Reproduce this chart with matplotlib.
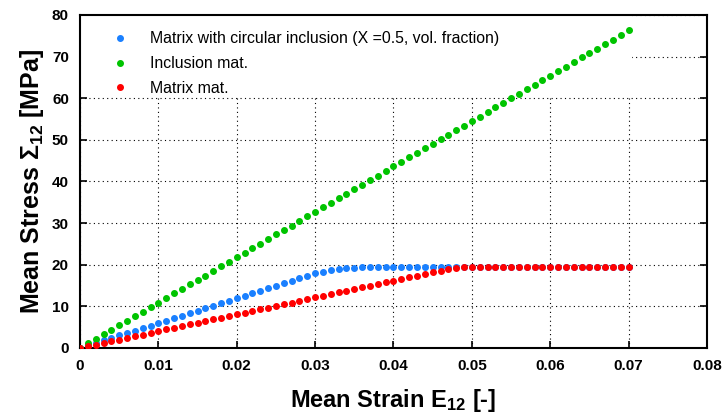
import matplotlib
matplotlib.use("Agg")
import matplotlib.pyplot as plt
from matplotlib.patches import Rectangle

plt.rcParams['font.family'] = ['Liberation Sans', 'DejaVu Sans']
plt.rcParams['mathtext.fontset'] = 'custom'
plt.rcParams['mathtext.rm'] = 'Liberation Sans:bold'
plt.rcParams['mathtext.bf'] = 'Liberation Sans:bold'
plt.rcParams['mathtext.default'] = 'bf'

# strain in steps of 0.001
strain = [0.000, 0.001, 0.002, 0.003, 0.004, 0.005, 0.006, 0.007, 0.008, 0.009,
          0.010, 0.011, 0.012, 0.013, 0.014, 0.015, 0.016, 0.017, 0.018, 0.019,
          0.020, 0.021, 0.022, 0.023, 0.024, 0.025, 0.026, 0.027, 0.028, 0.029,
          0.030, 0.031, 0.032, 0.033, 0.034, 0.035, 0.036, 0.037, 0.038, 0.039,
          0.040, 0.041, 0.042, 0.043, 0.044, 0.045, 0.046, 0.047, 0.048, 0.049,
          0.050, 0.051, 0.052, 0.053, 0.054, 0.055, 0.056, 0.057, 0.058, 0.059,
          0.060, 0.061, 0.062, 0.063, 0.064, 0.065, 0.066, 0.067, 0.068, 0.069,
          0.070]

composite = [0, 0.6, 1.2, 1.8, 2.4, 3.0, 3.6, 4.2, 4.8, 5.4,
             6.0, 6.6, 7.2, 7.8, 8.4, 9.0, 9.6, 10.2, 10.8, 11.4,
             12.0, 12.6, 13.2, 13.8, 14.4, 15.0, 15.6, 16.2, 16.8, 17.4,
             18.0, 18.35, 18.7, 19.0, 19.2, 19.3, 19.4, 19.45, 19.5, 19.5,
             19.5, 19.5, 19.5, 19.5, 19.5, 19.5, 19.5, 19.5, 19.5, 19.5,
             19.5, 19.5, 19.5, 19.5, 19.5, 19.5, 19.5, 19.5, 19.5, 19.5,
             19.5, 19.5, 19.5, 19.5, 19.5, 19.5, 19.5, 19.5, 19.5, 19.5,
             19.5]

inclusion = [0, 1.1, 2.2, 3.3, 4.4, 5.5, 6.5, 7.6, 8.7, 9.8,
             10.9, 12.0, 13.1, 14.2, 15.3, 16.4, 17.4, 18.5, 19.6, 20.7,
             21.8, 22.9, 24.0, 25.1, 26.2, 27.3, 28.3, 29.4, 30.5, 31.6,
             32.7, 33.8, 34.9, 36.0, 37.1, 38.2, 39.2, 40.3, 41.4, 42.5,
             43.6, 44.7, 45.8, 46.9, 48.0, 49.1, 50.1, 51.2, 52.3, 53.4,
             54.5, 55.6, 56.7, 57.8, 58.9, 60.0, 61.0, 62.1, 63.2, 64.3,
             65.4, 66.5, 67.6, 68.7, 69.8, 70.9, 71.9, 73.0, 74.1, 75.2,
             76.3]

matrix = [0, 0.4, 0.8, 1.2, 1.6, 2.0, 2.4, 2.8, 3.2, 3.6,
          4.1, 4.5, 4.9, 5.3, 5.7, 6.1, 6.5, 6.9, 7.3, 7.7,
          8.1, 8.5, 8.9, 9.3, 9.7, 10.1, 10.5, 10.9, 11.3, 11.7,
          12.2, 12.6, 13.0, 13.4, 13.8, 14.2, 14.6, 15.0, 15.4, 15.8,
          16.2, 16.6, 17.0, 17.4, 17.8, 18.2, 18.6, 19.0, 19.3, 19.5,
          19.5, 19.5, 19.5, 19.5, 19.5, 19.5, 19.5, 19.5, 19.5, 19.5,
          19.5, 19.5, 19.5, 19.5, 19.5, 19.5, 19.5, 19.5, 19.5, 19.5,
          19.5]

labels = ["Matrix with circular inclusion (X =0.5, vol. fraction)",
          "Inclusion mat.",
          "Matrix mat."]
colors = ["#1a80ff", "#00c400", "#ff0000"]

fig = plt.figure(figsize=(7.24, 4.16), dpi=100)
ax = fig.add_axes([0.1105, 0.1635, 0.866, 0.8005])

for ys, lab, c in zip([composite, inclusion, matrix], labels, colors):
    ax.plot(strain, ys, linestyle="none", marker="o", markersize=4,
            color=c, label=lab, zorder=3)

ax.set_xlim(0, 0.08)
ax.set_ylim(0, 80)
ax.set_xticks([0, 0.01, 0.02, 0.03, 0.04, 0.05, 0.06, 0.07, 0.08])
ax.set_xticklabels(["0", "0.01", "0.02", "0.03", "0.04", "0.05", "0.06", "0.07", "0.08"])
ax.set_yticks(range(0, 81, 10))
ax.set_axisbelow(True)
ax.grid(True, color="black", linestyle=(0, (1, 3)), linewidth=0.8)
ax.tick_params(direction="in", top=True, right=True, length=5, width=1.2,
               labelsize=11, pad=8)
for lb in ax.get_xticklabels() + ax.get_yticklabels():
    lb.set_fontweight("bold")
for sp in ax.spines.values():
    sp.set_linewidth(1.5)

ax.set_xlabel("Mean Strain E$_{12}$ [-]", fontsize=17, fontweight="bold", labelpad=10)
ax.set_ylabel("Mean Stress $\\Sigma_{12}$ [MPa]", fontsize=18, fontweight="bold", labelpad=4)

# white legend box hides the grid in the upper left
ax.add_patch(Rectangle((0, 0.757), 0.88, 0.243, transform=ax.transAxes,
                       facecolor="white", edgecolor="none", zorder=1.5))

leg = ax.legend(loc="upper left", bbox_to_anchor=(0.029, 0.970), frameon=False,
                fontsize=11.4, handletextpad=0.9, borderaxespad=0.0,
                labelspacing=0.62, handlelength=2.0, borderpad=0.4)
leg.set_zorder(2)

fig.savefig("out.png", dpi=100)
